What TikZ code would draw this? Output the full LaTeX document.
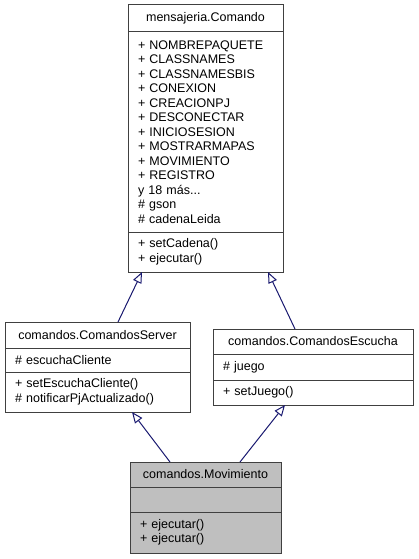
\documentclass[tikz,border=0pt]{standalone}
\usepackage{fontspec}
\setmainfont{Liberation Sans}
\usetikzlibrary{positioning,arrows.meta}
\definecolor{edge}{HTML}{191970}
\definecolor{frame}{HTML}{404040}
\definecolor{shade}{HTML}{BFBFBF}
\tikzset{cls/.style={draw=frame,line width=1pt,fill=white,inner xsep=10pt,inner ysep=0pt,outer sep=0pt,font=\fontsize{12.5}{14.5}\selectfont,text width=#1},
head/.style={cls=#1,align=center,minimum height=26pt},
part/.style={cls=#1,align=left,minimum height=25pt},
inherit/.style={draw=edge,line width=1pt,-{Triangle[open,length=11pt,width=9pt]}}}
\begin{document}
\begin{tikzpicture}
\useasboundingbox[fill=white] (0,0) rectangle (418pt,-559pt);
% mensajeria.Comando
\node[head=135pt,minimum height=27pt,anchor=north west] (cmd) at (128pt,-5pt) {mensajeria.Comando};
\node[part=135pt,minimum height=200pt,below=0pt of cmd] (cmdA) {+ NOMBREPAQUETE\\+ CLASSNAMES\\+ CLASSNAMESBIS\\+ CONEXION\\+ CREACIONPJ\\+ DESCONECTAR\\+ INICIOSESION\\+ MOSTRARMAPAS\\+ MOVIMIENTO\\+ REGISTRO\\y 18 más...\\\# gson\\\# cadenaLeida};
\node[part=135pt,minimum height=40pt,below=0pt of cmdA] (cmdM) {+ setCadena()\\+ ejecutar()};
% comandos.ComandosServer
\node[head=165pt,anchor=north west] (srv) at (5pt,-322pt) {comandos.ComandosServer};
\node[part=165pt,minimum height=24pt,below=0pt of srv] (srvA) {\# escuchaCliente};
\node[part=165pt,minimum height=40pt,below=0pt of srvA] (srvM) {+ setEscuchaCliente()\\\# notificarPjActualizado()};
% comandos.ComandosEscucha
\node[head=180pt,minimum height=25pt,anchor=north west] (esc) at (213pt,-329pt) {comandos.ComandosEscucha};
\node[part=180pt,minimum height=26pt,below=0pt of esc] (escA) {\# juego};
\node[part=180pt,below=0pt of escA] (escM) {+ setJuego()};
% comandos.Movimiento
\node[head=131pt,minimum height=25pt,fill=shade,anchor=north west] (mov) at (130pt,-462pt) {comandos.Movimiento};
\node[part=131pt,fill=shade,below=0pt of mov] (movA) {};
\node[part=131pt,minimum height=41pt,fill=shade,below=0pt of movA] (movM) {+ ejecutar()\\+ ejecutar()};
% generalizacion
\draw[inherit] ([xshift=-35.5pt]mov.north) -- ([xshift=34.5pt]srvM.south);
\draw[inherit] ([xshift=34.5pt]mov.north) -- ([xshift=-28pt]escM.south);
\draw[inherit] ([xshift=20.5pt]srv.north) -- ([xshift=-63.5pt]cmdM.south);
\draw[inherit] ([xshift=-18pt]esc.north) -- ([xshift=62.5pt]cmdM.south);
\end{tikzpicture}
\end{document}
